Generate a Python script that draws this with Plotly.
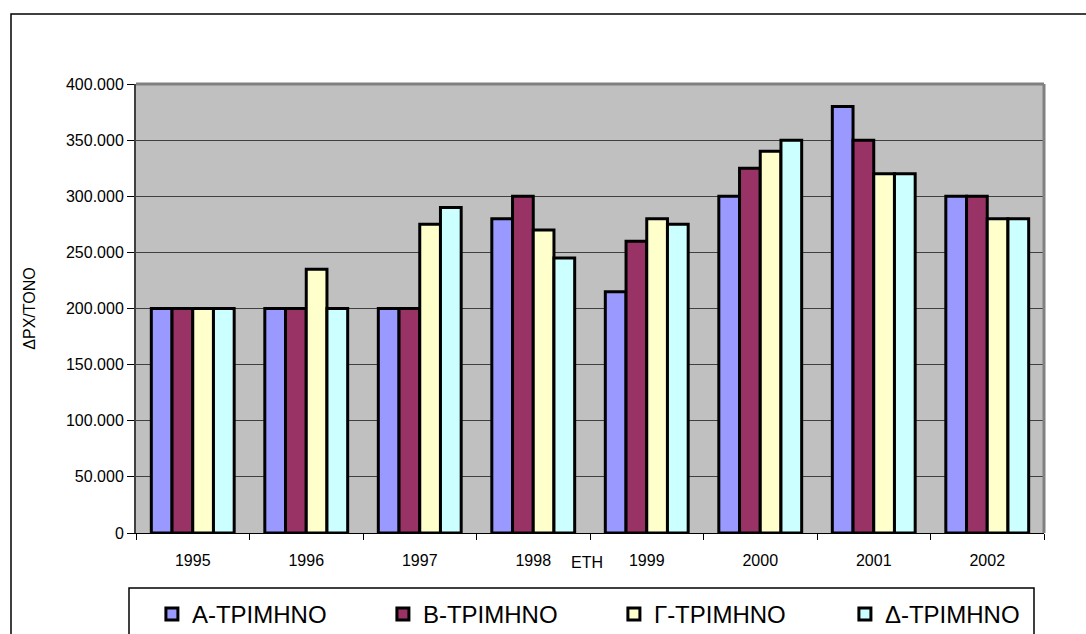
import plotly.graph_objects as go

# Years on the category axis
years = ["1995", "1996", "1997", "1998", "1999", "2000", "2001", "2002"]

# Price per tonne (drachmas) for each quarter
q_a = [200000, 200000, 200000, 280000, 215000, 300000, 380000, 300000]
q_b = [200000, 200000, 200000, 300000, 260000, 325000, 350000, 300000]
q_g = [200000, 235000, 275000, 270000, 280000, 340000, 320000, 280000]
q_d = [200000, 200000, 290000, 245000, 275000, 350000, 320000, 280000]

series_names = ["Α-ΤΡΙΜΗΝΟ", "Β-ΤΡΙΜΗΝΟ", "Γ-ΤΡΙΜΗΝΟ", "Δ-ΤΡΙΜΗΝΟ"]
series_colors = ["#9999FF", "#993366", "#FFFFCC", "#CCFFFF"]

y_ticks = [0, 50000, 100000, 150000, 200000, 250000, 300000, 350000, 400000]

fig = go.Figure()
for name, vals, col in zip(series_names, [q_a, q_b, q_g, q_d], series_colors):
    fig.add_trace(go.Bar(
        x=years, y=vals, name=name,
        marker=dict(color=col, line=dict(color="black", width=3)),
    ))

# Plot-area geometry in pixels (for the frame shapes)
L, R, T, B = 136, 1044, 84, 533
W, H = R - L, B - T


def px(x):
    return (x - L) / W


def py(y):
    return (B - y) / H


shapes = [
    # outer chart frame
    dict(type="rect", xref="paper", yref="paper",
         x0=px(11), x1=px(1095), y0=py(645), y1=py(14),
         line=dict(color="black", width=1.5), layer="below"),
    # legend box
    dict(type="rect", xref="paper", yref="paper",
         x0=px(129), x1=px(1034), y0=py(645), y1=py(588),
         line=dict(color="black", width=1.5), fillcolor="white", layer="below"),
    # raised border of the plot area (top and right)
    dict(type="line", xref="paper", yref="paper", x0=0, x1=1, y0=1, y1=1,
         line=dict(color="#808080", width=3)),
    dict(type="line", xref="paper", yref="paper", x0=1, x1=1, y0=0, y1=1,
         line=dict(color="#808080", width=3)),
]

fig.update_layout(
    width=1086, height=634,
    margin=dict(l=L, r=1086 - R, t=T, b=634 - B, autoexpand=False),
    paper_bgcolor="white",
    plot_bgcolor="#C0C0C0",
    separators=",.",
    barmode="group",
    bargap=0.27,
    bargroupgap=0,
    font=dict(family="Liberation Sans, Arial, sans-serif", size=16, color="black"),
    shapes=shapes,
    showlegend=True,
    legend=dict(
        orientation="h",
        x=-0.0001, y=py(592), xanchor="left", yanchor="top",
        borderwidth=0, bgcolor="rgba(0,0,0,0)",
        font=dict(family="Liberation Sans, Arial, sans-serif", size=24),
        entrywidth=170, entrywidthmode="pixels",
        indentation=16,
        traceorder="normal",
    ),
    annotations=[
        dict(text="ΕΤΗ", xref="paper", yref="paper", x=px(587), y=py(562),
             xanchor="center", yanchor="middle", showarrow=False,
             font=dict(size=16)),
    ],
)

fig.update_xaxes(
    type="category",
    showline=True, linecolor="black", linewidth=1,
    ticks="outside", ticklen=6, tickcolor="black", tickson="boundaries",
    ticklabelstandoff=13,
    showgrid=False,
)

fig.update_yaxes(
    range=[0, 400000],
    tickvals=y_ticks, tickformat=",d",
    showline=True, linecolor="#404040", linewidth=2,
    ticks="outside", ticklen=7, tickcolor="black",
    showgrid=True, gridcolor="#404040", gridwidth=1,
    zeroline=False,
    title=dict(text="ΔΡΧ/ΤΟΝΟ", standoff=26, font=dict(size=16)),
)

fig.write_html("out.html")
